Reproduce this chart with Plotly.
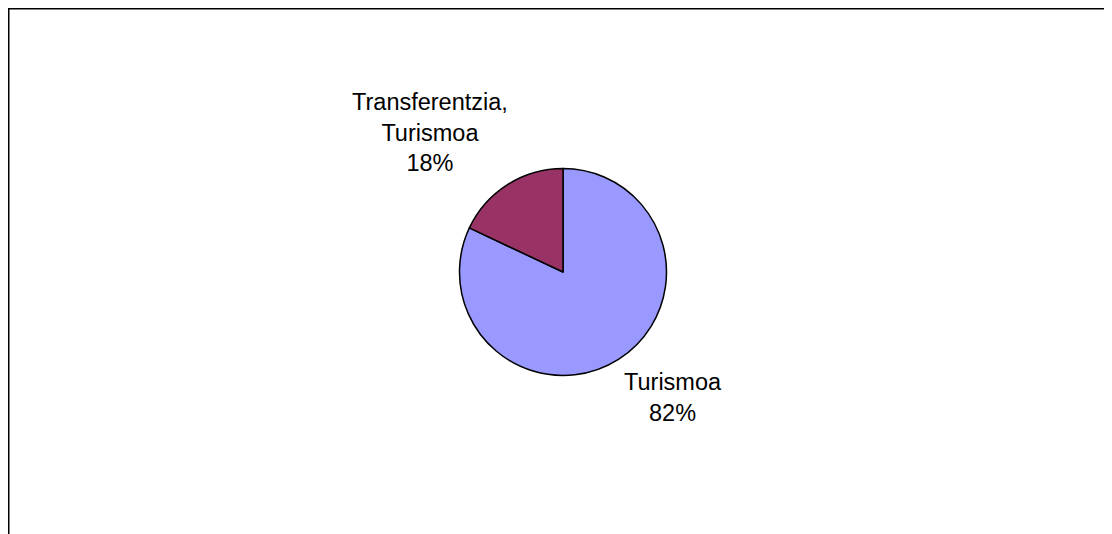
import plotly.graph_objects as go

# page body adds an 8px margin, so the figure is sized to the rest of the window
OFF = 8
W, H = 1112 - OFF, 534 - OFF

labels = ["Turismoa", "Transferentzia, Turismoa"]
values = [82, 18]
colors = ["#9999FF", "#993366"]

# label centres in window pixels
label_pos = [(673, 397), (430, 133)]

# pie centre and radius in window pixels
cx, cy, r = 563, 272, 103.5
fx, fy = cx - OFF, cy - OFF

fig = go.Figure(go.Pie(
    labels=labels,
    values=values,
    sort=False,
    direction="clockwise",
    rotation=0,
    marker=dict(colors=colors, line=dict(color="black", width=1.5)),
    textinfo="none",
    hoverinfo="label+percent",
    showlegend=False,
    domain=dict(x=[(fx - r) / W, (fx + r) / W],
                y=[1 - (fy + r) / H, 1 - (fy - r) / H]),
))

total = sum(values)
for lab, val, (px, py) in zip(labels, values, label_pos):
    txt = lab.replace(", ", ",<br>") + f"<br>{round(val / total * 100)}%"
    fig.add_annotation(
        x=(px - OFF) / W, y=1 - (py - OFF) / H, xref="paper", yref="paper",
        text=txt, showarrow=False, xanchor="center", yanchor="middle",
        font=dict(size=23.5, color="black"),
    )

# chart frame: only the left and top edges fall inside the window
frame = dict(color="black", width=2)
fig.add_shape(type="line", xref="paper", yref="paper",
              x0=0.5 / W, x1=0.5 / W, y0=-0.05, y1=1 - 0.5 / H, line=frame)
fig.add_shape(type="line", xref="paper", yref="paper",
              x0=0, x1=1.05, y0=1 - 0.5 / H, y1=1 - 0.5 / H, line=frame)

fig.update_layout(
    width=W, height=H,
    paper_bgcolor="white",
    plot_bgcolor="white",
    margin=dict(l=0, r=0, t=0, b=0),
    font=dict(family="Liberation Sans, Arial, sans-serif", color="black"),
)

fig.write_html("out.html")
